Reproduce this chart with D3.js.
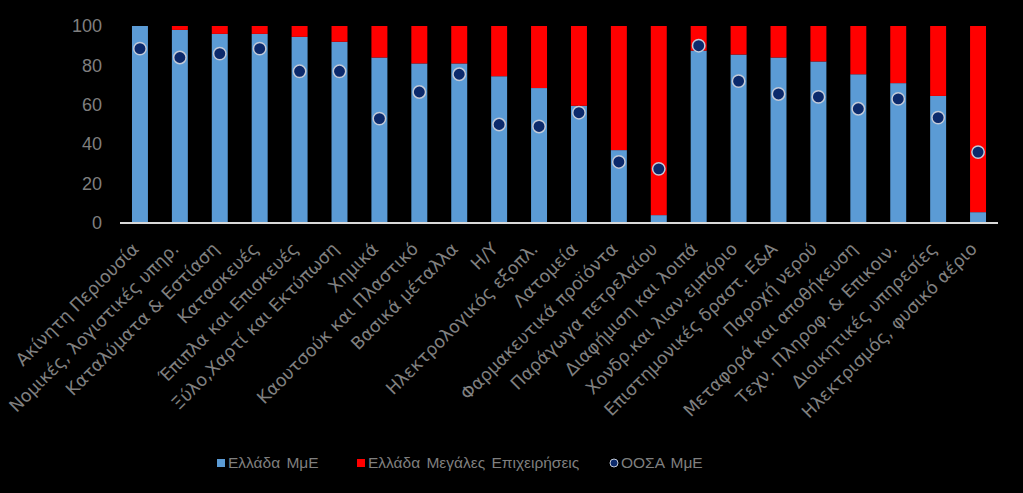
<!DOCTYPE html>
<html>
<head>
<meta charset="utf-8">
<script src="https://cdn.jsdelivr.net/npm/d3@7"></script>
<style>
  html, body { margin: 0; padding: 0; background: #000; }
  svg { display: block; }
  .tick text { font-family: "Liberation Sans", Arial, sans-serif; }
</style>
</head>
<body>
<div id="chart"></div>
<script>
// sectors (x axis)
const categories = [
  "Ακίνητη Περιουσία", "Νομικές, λογιστικές υπηρ.", "Καταλύματα & Εστίαση",
  "Κατασκευές", "Έπιπλα και Επισκευές", "Ξύλο,Χαρτί και Εκτύπωση",
  "Χημικά", "Καουτσούκ και Πλαστικό", "Βασικά μέταλλα", "Η/Υ",
  "Ηλεκτρολογικός εξοπλ.", "Λατομεία", "Φαρμακευτικά προϊόντα",
  "Παράγωγα πετρελαίου", "Διαφήμιση και λοιπά", "Χονδρ.και λιαν.εμπόριο",
  "Επιστημονικές δραστ. Ε&Α", "Παροχή νερού", "Μεταφορά και αποθήκευση",
  "Τεχν. Πληροφ. & Επικοιν.", "Διοικητικές υπηρεσίες", "Ηλεκτρισμός, φυσικό αέριο"
];

// Ελλάδα ΜμΕ share (%), the rest up to 100 is large firms
const greeceSme = [100, 98, 96, 96, 94.5, 92, 84, 81, 81, 74.5, 68.5, 59.5,
  37, 4, 87.5, 85.5, 84, 82, 75.5, 71, 64.5, 5.5];

// ΟΟΣΑ ΜμΕ share (%)
const oecdSme = [88.5, 84, 86, 88.5, 77, 77, 53, 66.5, 75.5, 50, 49, 56,
  31, 27.5, 90, 72, 65.5, 64, 58, 63, 53.5, 36];

const yTicks = [0, 20, 40, 60, 80, 100];

const legendItems = [
  {name: "Ελλάδα ΜμΕ", type: "rect", color: "#5b9bd5"},
  {name: "Ελλάδα Μεγάλες Επιχειρήσεις", type: "rect", color: "#ff0000"},
  {name: "ΟΟΣΑ ΜμΕ", type: "circle", color: "#0c2a6c"}
];

const width = 1023, height = 493;
const margin = {top: 26, right: 25, bottom: 270, left: 120};
const plotBottom = 223;

const svg = d3.select("#chart").append("svg")
  .attr("width", width)
  .attr("height", height)
  .style("background", "#000");

const x = d3.scaleBand()
  .domain(categories)
  .range([margin.left, width - margin.right])
  .paddingInner(0.6)
  .paddingOuter(0.3);

const y = d3.scaleLinear()
  .domain([0, 100])
  .range([plotBottom, margin.top]);

const rows = categories.map((c, i) => ({cat: c, sme: greeceSme[i], large: 100 - greeceSme[i], oecd: oecdSme[i]}));

// blue part (SMEs)
svg.append("g").selectAll("rect")
  .data(rows)
  .join("rect")
  .attr("x", d => x(d.cat))
  .attr("width", x.bandwidth())
  .attr("y", d => y(d.sme))
  .attr("height", d => y(0) - y(d.sme))
  .attr("fill", "#5b9bd5");

// red part (large firms), stacked on top
svg.append("g").selectAll("rect")
  .data(rows)
  .join("rect")
  .attr("x", d => x(d.cat))
  .attr("width", x.bandwidth())
  .attr("y", d => y(d.sme + d.large))
  .attr("height", d => y(d.sme) - y(d.sme + d.large))
  .attr("fill", "#ff0000");

// y axis, labels only
const yAxis = svg.append("g")
  .attr("transform", `translate(${margin.left - 18},0)`)
  .call(d3.axisLeft(y).tickValues(yTicks).tickSize(0).tickPadding(0));
yAxis.select(".domain").remove();
yAxis.selectAll("text")
  .attr("fill", "#7f7f7f")
  .style("font-size", "18px");

// x axis line + rotated labels
const xAxis = svg.append("g")
  .attr("transform", `translate(0,${y(0)})`)
  .call(d3.axisBottom(x).tickSize(0).tickPadding(0));
xAxis.select(".domain")
  .attr("stroke", "#d9d9d9")
  .attr("stroke-width", 2)
  .attr("d", `M${margin.left},0H${width - margin.right}`);
xAxis.selectAll("text")
  .attr("fill", "#808080")
  .attr("text-anchor", "end")
  .attr("dy", 0)
  .attr("y", 0)
  .attr("transform", "translate(0,27) rotate(-45)")
  .style("font-family", "'DejaVu Sans', sans-serif")
  .style("font-size", "17.5px");

// OECD dots
svg.append("g").selectAll("circle")
  .data(rows)
  .join("circle")
  .attr("cx", d => x(d.cat) + x.bandwidth() / 2)
  .attr("cy", d => y(d.oecd))
  .attr("r", 6.2)
  .attr("fill", "#0c2a6c")
  .attr("stroke", "#c3cad8")
  .attr("stroke-width", 1.5);

// legend
const legendX = [217, 357, 610];
const legend = svg.append("g").attr("transform", "translate(0,463)");
legendItems.forEach((item, i) => {
  const g = legend.append("g").attr("transform", `translate(${legendX[i]},0)`);
  if (item.type === "rect") {
    g.append("rect").attr("x", 0).attr("y", -4).attr("width", 8).attr("height", 8)
      .attr("fill", item.color);
  } else {
    g.append("circle").attr("cx", 4).attr("cy", 0).attr("r", 4)
      .attr("fill", item.color).attr("stroke", "#c3cad8").attr("stroke-width", 1);
  }
  g.append("text")
    .attr("x", 11)
    .attr("y", 0)
    .attr("dy", "0.35em")
    .attr("fill", "#7f7f7f")
    .style("font-family", "'Liberation Sans', Arial, sans-serif")
    .style("font-size", "15.5px")
    .style("word-spacing", "2px")
    .text(item.name);
});
</script>
</body>
</html>
